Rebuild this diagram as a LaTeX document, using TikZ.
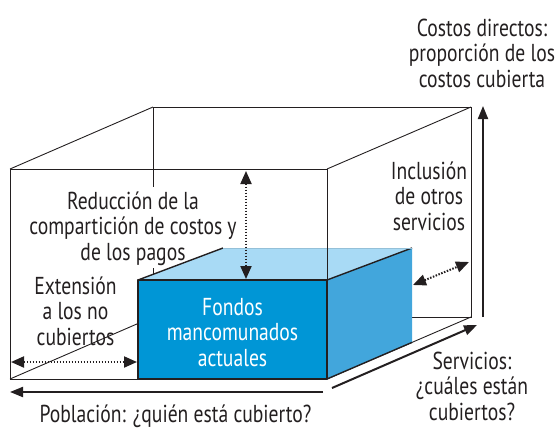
\documentclass[tikz,border=0pt]{standalone}
\usepackage{fontspec}
\setmainfont{PT Sans}[FakeStretch=0.80]
\usetikzlibrary{arrows.meta}
\definecolor{ink}{HTML}{231F20}
\definecolor{frontblue}{HTML}{0096D6}
\definecolor{sideblue}{HTML}{42A6DC}
\definecolor{topblue}{HTML}{A8DAF5}
\begin{document}
\begin{tikzpicture}[x=1pt,y=-1pt,
  edge/.style={draw=ink,line width=0.9pt},
  boxedge/.style={draw=ink,line width=1.4pt,line join=round},
  axisarrow/.style={draw=ink,line width=2pt,-{Triangle[length=13pt,width=10pt]}},
  dimarrow/.style={draw=ink,line width=2pt,dash pattern=on 1.5pt off 1.5pt,
    {Triangle[length=13pt,width=11pt]}-{Triangle[length=13pt,width=11pt]}},
  lbl/.style={font=\fontsize{24.5}{25.5}\selectfont,text=ink,align=center,inner sep=0pt,anchor=base},
]
\useasboundingbox (0,0) rectangle (558,429);
% outer box corners
\coordinate (FTL) at (10,169);  \coordinate (FTR) at (327,169);
\coordinate (FBR) at (327,379); \coordinate (FBL) at (10,379);
\coordinate (BTL) at (153,107); \coordinate (BTR) at (471,107);
\coordinate (BBR) at (471,317); \coordinate (BBL) at (153,317);
\coordinate (BLa) at (153,187); \coordinate (BLb) at (153,268);
% blue box corners
\coordinate (bFTL) at (138,280); \coordinate (bFTR) at (327,280);
\coordinate (bFBR) at (327,379); \coordinate (bFBL) at (138,379);
\coordinate (bBTL) at (223,248); \coordinate (bBTR) at (412,248);
\coordinate (bBBR) at (412,342.4);
% outer box
\draw[edge] (BTL) -- (BTR) -- (BBR) -- (BBL);
\draw[edge] (BBR) -- (FBR);
\draw[edge] (BTL) -- (BLa);
\draw[edge] (BLb) -- (BBL);
\draw[edge] (FBL) -- (BBL);
\draw[edge] (FTL) -- (BTL);
\draw[edge] (FTR) -- (BTR);
\draw[edge] (FBR) -- (FBL) -- (FTL) -- (FTR);
% blue box
\fill[topblue] (bFTL) -- (bBTL) -- (bBTR) -- (bFTR) -- cycle;
\fill[sideblue] (bFTR) -- (bBTR) -- (bBBR) -- (bFBR) -- cycle;
\fill[frontblue] (bFTL) rectangle (bFBR);
\draw[boxedge] (bFTL) rectangle (bFBR);
\draw[boxedge] (bFTL) -- (bBTL);
\draw[boxedge] (bFTR) -- (bBTR);
\draw[boxedge] (bFBR) -- (bBBR);
\draw[draw=topblue!80!black!60!topblue,line width=0.6pt] (bBTL) -- (bBTR);
\draw[edge] (FTR) -- (bFTR);
% labels (anchor = baseline of the last line)
\node[lbl] (costos) at (482,87) {Costos directos:\\proporción de los\\costos cubierta};
\node[lbl] (reduccion) at (133,260) {Reducción de la\\compartición de costos y\\de los pagos};
\node[lbl] (extension) at (75.5,345) {Extensión\\a los no\\cubiertos};
\node[lbl,text=white] (fondos) at (232.5,366) {Fondos\\mancomunados\\actuales};
\node[lbl] (inclusion) at (429,230) {Inclusión\\de otros\\servicios};
\node[lbl] (servicios) at (472,420) {Servicios:\\¿cuáles están\\cubiertos?};
\node[lbl] (poblacion) at (175.5,422) {Población: ¿quién está cubierto?};
% arrows
\coordinate (pobA) at (323,392); \coordinate (pobB) at (10,392);
\coordinate (serA) at (332,388); \coordinate (serB) at (477,325);
\coordinate (cosA) at (483,317); \coordinate (cosB) at (483,106);
\draw[axisarrow] (pobA) -- (pobB);
\draw[axisarrow] (serA) -- (serB);
\draw[axisarrow] (cosA) -- (cosB);
\coordinate (redA) at (246,171); \coordinate (redB) at (246,279);
\coordinate (extA) at (11,362); \coordinate (extB) at (137,362);
\coordinate (incA) at (413,285); \coordinate (incB) at (469,262);
\draw[dimarrow] (redA) -- (redB);
\draw[dimarrow] (extA) -- (extB);
\draw[dimarrow] (incA) -- (incB);
\end{tikzpicture}
\end{document}
